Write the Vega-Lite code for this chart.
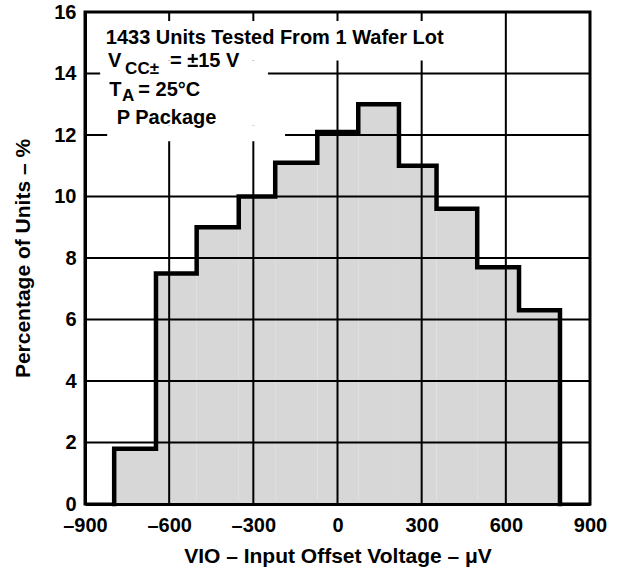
{
  "$schema": "https://vega.github.io/schema/vega-lite/v6.json",
  "width": 505,
  "height": 492,
  "autosize": "none",
  "padding": {"left": 85, "top": 12, "right": 34, "bottom": 67},
  "background": "white",
  "config": {
    "font": "Liberation Sans",
    "view": {"stroke": "black", "strokeWidth": 3},
    "axis": {"grid": false}
  },
  "datasets": {
    "bars": [
      {"lo": -796, "hi": -647, "pct": 1.8},
      {"lo": -647, "hi": -502, "pct": 7.5},
      {"lo": -502, "hi": -352, "pct": 9.0},
      {"lo": -352, "hi": -222, "pct": 10.0},
      {"lo": -222, "hi": -72, "pct": 11.1},
      {"lo": -72, "hi": 74, "pct": 12.1},
      {"lo": 74, "hi": 219, "pct": 13.0},
      {"lo": 219, "hi": 353, "pct": 11.0},
      {"lo": 353, "hi": 498, "pct": 9.6},
      {"lo": 498, "hi": 647, "pct": 7.7},
      {"lo": 647, "hi": 793, "pct": 6.3}
    ],
    "outline": [
      {"k": 0, "v": -796, "pct": 0},
      {"k": 1, "v": -647, "pct": 1.8},
      {"k": 2, "v": -502, "pct": 7.5},
      {"k": 3, "v": -352, "pct": 9.0},
      {"k": 4, "v": -222, "pct": 10.0},
      {"k": 5, "v": -72, "pct": 11.1},
      {"k": 6, "v": 74, "pct": 12.1},
      {"k": 7, "v": 219, "pct": 13.0},
      {"k": 8, "v": 353, "pct": 11.0},
      {"k": 9, "v": 498, "pct": 9.6},
      {"k": 10, "v": 647, "pct": 7.7},
      {"k": 11, "v": 793, "pct": 6.3},
      {"k": 12, "v": 793, "pct": 0}
    ],
    "gridx": [{"v": -600}, {"v": -300}, {"v": 0}, {"v": 300}, {"v": 600}],
    "gridy": [{"p": 2}, {"p": 4}, {"p": 6}, {"p": 8}, {"p": 10}, {"p": 12}, {"p": 14}],
    "boxes": [
      {"x0": -846, "x1": 472, "y0": 14.42, "y1": 15.71},
      {"x0": -846, "x1": -248, "y0": 12.3, "y1": 14.42},
      {"x0": -821, "x1": -187, "y0": 11.8, "y1": 12.3}
    ],
    "notes": [
      {"kind": "main", "t": "1433 Units Tested From 1 Wafer Lot", "x": -826, "y": 14.97},
      {"kind": "main", "t": "V", "x": -818, "y": 14.2},
      {"kind": "sub", "t": "CC±", "x": -757, "y": 13.99},
      {"kind": "main", "t": "= ±15 V", "x": -597, "y": 14.2},
      {"kind": "main", "t": "T", "x": -814, "y": 13.28},
      {"kind": "sub", "t": "A", "x": -768, "y": 13.1},
      {"kind": "main", "t": "= 25°C", "x": -710, "y": 13.28},
      {"kind": "main", "t": "P Package", "x": -787, "y": 12.36}
    ]
  },
  "layer": [
    {
      "data": {"name": "bars"},
      "mark": {"type": "rect", "fill": "#d7d7d7", "strokeWidth": 0},
      "encoding": {
        "x": {
          "field": "lo", "type": "quantitative",
          "scale": {"domain": [-900, 900], "nice": false, "zero": false},
          "axis": {
            "title": "VIO – Input Offset Voltage – μV",
            "values": [-900, -600, -300, 0, 300, 600, 900],
            "labelExpr": "datum.value < 0 ? '–' + abs(datum.value) : '' + datum.value",
            "grid": false, "ticks": false, "tickSize": 0,
            "domain": true, "domainColor": "black", "domainWidth": 3,
            "zindex": 1,
            "labelFont": "Liberation Sans", "labelFontWeight": "bold", "labelFontSize": 20,
            "labelColor": "black", "labelPadding": 11, "labelFlush": false,
            "titleFont": "Liberation Sans", "titleFontWeight": "bold", "titleFontSize": 21,
            "titleColor": "black", "titlePadding": 10
          }
        },
        "x2": {"field": "hi"},
        "y": {
          "field": "pct", "type": "quantitative",
          "scale": {"domain": [0, 16], "nice": false},
          "axis": {
            "title": "Percentage of Units – %",
            "values": [0, 2, 4, 6, 8, 10, 12, 14, 16],
            "grid": false, "ticks": false, "tickSize": 0,
            "domain": true, "domainColor": "black", "domainWidth": 3,
            "zindex": 1,
            "labelFont": "Liberation Sans", "labelFontWeight": "bold", "labelFontSize": 20,
            "labelColor": "black", "labelPadding": 9,
            "titleFont": "Liberation Sans", "titleFontWeight": "bold", "titleFontSize": 21,
            "titleColor": "black", "titlePadding": 20
          }
        },
        "y2": {"datum": 0}
      }
    },
    {
      "data": {"name": "gridx"},
      "mark": {"type": "rule", "color": "black", "strokeWidth": 2},
      "encoding": {
        "x": {"field": "v", "type": "quantitative", "scale": {"domain": [-900, 900], "nice": false, "zero": false}}
      }
    },
    {
      "data": {"name": "gridy"},
      "mark": {"type": "rule", "color": "black", "strokeWidth": 2},
      "encoding": {
        "y": {"field": "p", "type": "quantitative", "scale": {"domain": [0, 16], "nice": false}}
      }
    },
    {
      "data": {"name": "boxes"},
      "mark": {"type": "rect", "fill": "white", "strokeWidth": 0},
      "encoding": {
        "x": {"field": "x0", "type": "quantitative", "scale": {"domain": [-900, 900], "nice": false, "zero": false}},
        "x2": {"field": "x1"},
        "y": {"field": "y0", "type": "quantitative", "scale": {"domain": [0, 16], "nice": false}},
        "y2": {"field": "y1"}
      }
    },
    {
      "data": {"name": "outline"},
      "mark": {"type": "line", "interpolate": "step-before", "color": "black", "strokeWidth": 4.5, "strokeJoin": "miter", "strokeCap": "square"},
      "encoding": {
        "x": {"field": "v", "type": "quantitative", "scale": {"domain": [-900, 900], "nice": false, "zero": false}},
        "y": {"field": "pct", "type": "quantitative", "scale": {"domain": [0, 16], "nice": false}},
        "order": {"field": "k", "type": "quantitative"}
      }
    },
    {
      "data": {"name": "notes"},
      "transform": [{"filter": "datum.kind === 'main'"}],
      "mark": {"type": "text", "align": "left", "baseline": "alphabetic", "font": "Liberation Sans", "fontWeight": "bold", "fontSize": 20, "color": "black"},
      "encoding": {
        "x": {"field": "x", "type": "quantitative", "scale": {"domain": [-900, 900], "nice": false, "zero": false}},
        "y": {"field": "y", "type": "quantitative", "scale": {"domain": [0, 16], "nice": false}},
        "text": {"field": "t"}
      }
    },
    {
      "data": {"name": "notes"},
      "transform": [{"filter": "datum.kind === 'sub'"}],
      "mark": {"type": "text", "align": "left", "baseline": "alphabetic", "font": "Liberation Sans", "fontWeight": "bold", "fontSize": 17, "color": "black"},
      "encoding": {
        "x": {"field": "x", "type": "quantitative", "scale": {"domain": [-900, 900], "nice": false, "zero": false}},
        "y": {"field": "y", "type": "quantitative", "scale": {"domain": [0, 16], "nice": false}},
        "text": {"field": "t"}
      }
    }
  ]
}
